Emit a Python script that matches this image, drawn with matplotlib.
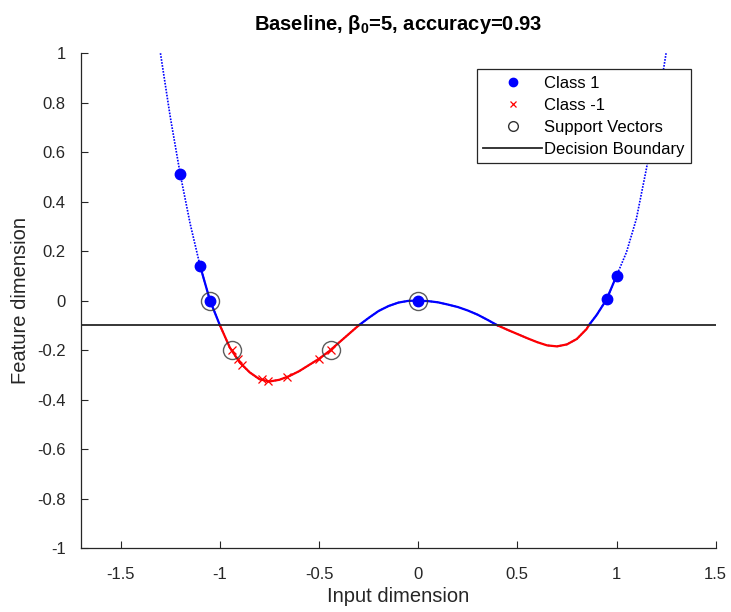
import numpy as np
import matplotlib
matplotlib.use('Agg')
import matplotlib.pyplot as plt

plt.rcParams.update({
    'font.family': ['Liberation Sans', 'DejaVu Sans'],
    'mathtext.fontset': 'custom',
    'mathtext.rm': 'Liberation Sans:bold',
    'mathtext.it': 'Liberation Sans:italic',
    'mathtext.bf': 'Liberation Sans:bold',
    'axes.spines.top': False,
    'axes.spines.right': False,
})

# 曲线
curve_x = [-1.30, -1.25, -1.20, -1.15, -1.10, -1.05, -1.00, -0.95, -0.90, -0.85,
           -0.80, -0.75, -0.70, -0.65, -0.60, -0.55, -0.50, -0.45, -0.40, -0.35,
           -0.30, -0.25, -0.20, -0.15, -0.10, -0.05, 0.00, 0.05, 0.10, 0.15,
           0.20, 0.25, 0.30, 0.35, 0.40, 0.45, 0.50, 0.55, 0.60, 0.65,
           0.70, 0.75, 0.80, 0.85, 0.86, 0.90, 0.95, 1.00, 1.05, 1.10,
           1.15, 1.20, 1.25]
curve_y = [1.00, 0.74, 0.51, 0.31, 0.14, 0.00, -0.10, -0.19, -0.25, -0.29,
           -0.318, -0.327, -0.32, -0.305, -0.285, -0.26, -0.235, -0.205, -0.17, -0.135,
           -0.10, -0.07, -0.042, -0.022, -0.008, -0.001, 0.00, -0.002, -0.007, -0.016,
           -0.026, -0.04, -0.057, -0.078, -0.10, -0.118, -0.135, -0.152, -0.168, -0.181,
           -0.185, -0.177, -0.155, -0.114, -0.10, -0.058, 0.005, 0.10, 0.195, 0.33,
           0.53, 0.75, 1.00]

# 样本点
class1_x = [-1.20, -1.10, -1.05, 0.00, 0.95, 1.00]
class1_y = [0.51, 0.14, 0.00, 0.00, 0.005, 0.10]
classn_x = [-0.94, -0.91, -0.89, -0.79, -0.76, -0.66, -0.50, -0.44]
classn_y = [-0.20, -0.235, -0.26, -0.318, -0.325, -0.31, -0.235, -0.20]
sv_x = [-1.05, -0.94, -0.44, 0.00]
sv_y = [0.00, -0.20, -0.20, 0.00]
boundary = -0.1
beta0 = 5
accuracy = 0.93

cx = np.array(curve_x)
cy = np.array(curve_y)

fig = plt.figure(figsize=(7.31, 6.12), dpi=100)
ax = fig.add_axes([0.111, 0.1046, 0.868, 0.8084])

# 全范围点线
ax.plot(cx, cy, linestyle=(0, (1, 0.8)), color='blue', linewidth=1.2)

# 数据范围内实线，按决策边界着色
inside = (cx >= -1.1) & (cx <= 1.0)
blue_y = np.ma.masked_where(~inside | (cy < boundary), cy)
red_y = np.ma.masked_where(~inside | (cy > boundary), cy)
ax.plot(cx, blue_y, '-', color='blue', linewidth=1.6)
ax.plot(cx, red_y, '-', color='red', linewidth=1.6)

ax.axhline(boundary, color='#262626', linewidth=1.3, label='Decision Boundary')

ax.plot(class1_x, class1_y, 'o', color='blue', markersize=7.5, linestyle='none',
        label='Class 1')
ax.plot(classn_x, classn_y, 'x', color='red', markersize=5.5, markeredgewidth=0.9,
        linestyle='none', label='Class -1')
ax.plot(sv_x, sv_y, 'o', markerfacecolor='none', markeredgecolor='#333333',
        markeredgewidth=1.0, markersize=13, linestyle='none', alpha=0.8,
        label='Support Vectors')

ax.set_xlim(-1.7, 1.5)
ax.set_ylim(-1, 1)
ax.set_xticks([-1.5, -1, -0.5, 0, 0.5, 1, 1.5])
ax.set_xticklabels(['-1.5', '-1', '-0.5', '0', '0.5', '1', '1.5'])
ax.set_yticks(np.arange(-1, 1.01, 0.2))
ax.set_yticklabels(['-1', '-0.8', '-0.6', '-0.4', '-0.2', '0',
                    '0.2', '0.4', '0.6', '0.8', '1'])
ax.tick_params(direction='in', length=5, labelsize=12, colors='#262626')
ax.tick_params(axis='y', pad=11)
ax.tick_params(axis='x', pad=14)
for s in ('left', 'bottom'):
    ax.spines[s].set_color('#262626')
    ax.spines[s].set_linewidth(0.9)

ax.set_xlabel('Input dimension', fontsize=14.5, color='#262626', labelpad=3)
ax.set_ylabel('Feature dimension', fontsize=14.5, color='#262626', labelpad=5)
ax.set_title(rf'Baseline, β$_{{0}}$={beta0}, accuracy={accuracy:.2f}',
             fontsize=14.5, fontweight='bold', pad=17)

handles, labels = ax.get_legend_handles_labels()
order = [labels.index(n) for n in ['Class 1', 'Class -1', 'Support Vectors',
                                    'Decision Boundary']]
leg = ax.legend([handles[i] for i in order], [labels[i] for i in order],
                loc='upper right', bbox_to_anchor=(0.975, 0.985),
                fontsize=12, handlelength=3.5, handletextpad=0.15,
                borderpad=0.4, labelspacing=0.42, fancybox=False,
                framealpha=1, edgecolor='#262626', markerscale=0.8)
leg.get_frame().set_linewidth(0.9)
leg.legend_handles[2].set_markersize(7)
leg.legend_handles[2].set_markeredgecolor('black')

fig.savefig('out.png', dpi=100)
